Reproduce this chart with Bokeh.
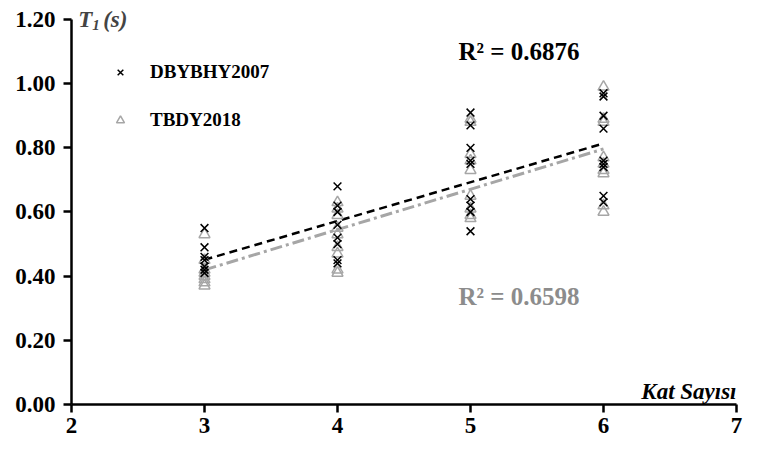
import numpy as np
from bokeh.plotting import figure
from bokeh.models import Range1d, FixedTicker, NumeralTickFormatter, Label, Legend, LegendItem
from bokeh.embed import file_html
from bokeh.resources import INLINE

# ---- data ----
dby_x = [3]*7 + [4]*8 + [5]*9 + [6]*9
dby_y = [0.55, 0.49, 0.46, 0.45, 0.43, 0.42, 0.41,
         0.68, 0.62, 0.60, 0.56, 0.52, 0.50, 0.45, 0.44,
         0.91, 0.87, 0.80, 0.76, 0.75, 0.64, 0.62, 0.60, 0.54,
         0.97, 0.96, 0.90, 0.86, 0.76, 0.75, 0.74, 0.65, 0.63]
tbdy_x = [3]*8 + [4]*9 + [5]*9 + [6]*9
tbdy_y = [0.53, 0.45, 0.42, 0.41, 0.40, 0.39, 0.38, 0.37,
          0.63, 0.61, 0.59, 0.55, 0.53, 0.49, 0.47, 0.42, 0.41,
          0.89, 0.88, 0.78, 0.76, 0.73, 0.65, 0.61, 0.59, 0.58,
          0.99, 0.89, 0.88, 0.77, 0.75, 0.73, 0.72, 0.62, 0.60]
series_names = ["DBYBHY2007", "TBDY2018"]
r2_texts = ["R² = 0.6876", "R² = 0.6598"]
x_ticks = [2, 3, 4, 5, 6, 7]
y_ticks = [0.0, 0.2, 0.4, 0.6, 0.8, 1.0, 1.2]
y_max = 1.2

FONT = "Liberation Serif"
BLACK = "#000000"
GRAY = "#a6a6a6"
GRAY_TXT = "#8c8c8c"

# frame extends a little above 1.20 so the T1 title is not clipped
p = figure(width=752, height=442, output_backend="svg", toolbar_location=None,
           x_range=Range1d(2, 7), y_range=Range1d(0, y_max + 14 / 321),
           min_border_left=71, min_border_right=16, min_border_top=5, min_border_bottom=38)
p.outline_line_color = None
p.xgrid.visible = False
p.ygrid.visible = False

for ax in (p.xaxis[0], p.yaxis[0]):
    ax.axis_line_width = 2.5
    ax.major_tick_line_width = 2.5
    ax.major_tick_out = 8
    ax.major_tick_in = 0
    ax.minor_tick_line_color = None
    ax.major_label_text_font = FONT
    ax.major_label_text_font_style = "bold"
    ax.major_label_text_font_size = "23px"
    ax.major_label_text_color = BLACK
    ax.axis_line_color = BLACK
    ax.major_tick_line_color = BLACK
p.xaxis[0].ticker = FixedTicker(ticks=x_ticks)
p.yaxis[0].ticker = FixedTicker(ticks=y_ticks)
p.yaxis[0].bounds = (0, y_max)
p.yaxis[0].formatter = NumeralTickFormatter(format="0.00")
p.xaxis[0].major_label_standoff = 5
p.yaxis[0].major_label_standoff = 8

# trendlines (least squares from the data)
xs = np.array([3, 6], dtype=float)
k1, b1 = np.polyfit(dby_x, dby_y, 1)
k2, b2 = np.polyfit(tbdy_x, tbdy_y, 1)
p.line(xs, k2 * xs + b2, line_color=GRAY, line_width=3, line_dash="12 4 3 4")
p.line(xs, k1 * xs + b1, line_color=BLACK, line_width=2.5, line_dash="8 5")

r_tb = p.scatter(tbdy_x, tbdy_y, marker="triangle", size=11, fill_color=None,
                 line_color=GRAY, line_width=1.5)
r_db = p.scatter(dby_x, dby_y, marker="x", size=11, line_color=BLACK, line_width=1.5)

legend = Legend(items=[LegendItem(label=series_names[0], renderers=[r_db]),
                       LegendItem(label=series_names[1], renderers=[r_tb])],
                location=(39, 272), padding=0, margin=0, spacing=24,
                glyph_width=20, glyph_height=24, label_height=24, label_standoff=20,
                label_text_font=FONT, label_text_font_style="bold",
                label_text_font_size="19px", label_text_color=BLACK,
                border_line_color=None, background_fill_alpha=0)
p.add_layout(legend)

p.add_layout(Label(x=4.91, y=1.081, y_offset=6, text=r2_texts[0], text_font=FONT,
                   text_font_style="bold", text_font_size="25px", text_color=BLACK,
                   text_baseline="alphabetic"))
p.add_layout(Label(x=4.91, y=0.318, y_offset=6, text=r2_texts[1], text_font=FONT,
                   text_font_style="bold", text_font_size="25px", text_color=GRAY_TXT,
                   text_baseline="alphabetic"))

# axis titles
p.add_layout(Label(x=2.05, y=y_max, text="T", text_font=FONT, text_font_style="bold italic",
                   text_font_size="23px", text_baseline="middle"))
p.add_layout(Label(x=2.05, y=y_max, x_offset=14, y_offset=-6, text="1", text_font=FONT,
                   text_font_style="bold italic", text_font_size="15px", text_baseline="middle"))
p.add_layout(Label(x=2.05, y=y_max, x_offset=25, text="(s)", text_font=FONT,
                   text_font_style="bold italic", text_font_size="23px", text_baseline="middle"))
p.add_layout(Label(x=7, y=0.0, y_offset=13, text="Kat Sayısı", text_font=FONT,
                   text_font_style="bold italic", text_font_size="23px", text_align="right",
                   text_color=BLACK, text_baseline="alphabetic"))

open("out.html", "w").write(file_html(p, INLINE))
